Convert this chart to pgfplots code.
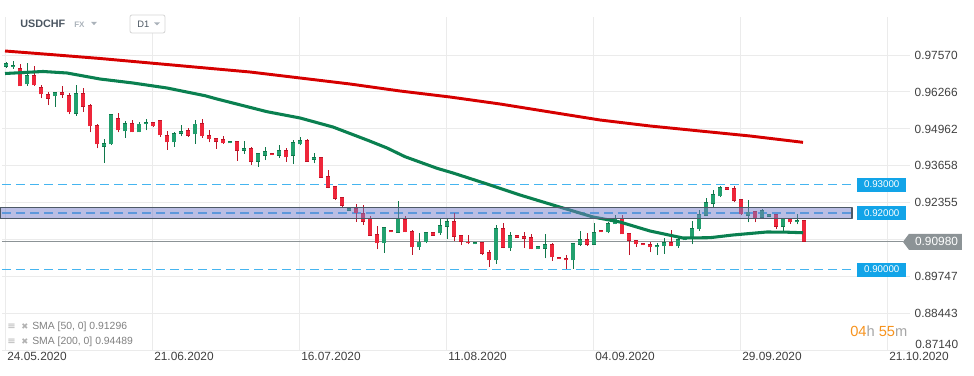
\documentclass[border=0pt]{standalone}
\usepackage{fontspec}
\setmainfont{Liberation Sans}
\newfontfamily\dejavu{DejaVu Sans}
\usepackage{pgfplots}
\usepackage{pgfplotstable}
\pgfplotsset{compat=1.18}
\definecolor{gfill}{HTML}{22A06E}
\definecolor{gline}{HTML}{10784B}
\definecolor{rfill}{HTML}{EE263A}
\definecolor{rline}{HTML}{BE1428}
\definecolor{smaG}{HTML}{0A8050}
\definecolor{smaR}{HTML}{D60000}
\definecolor{lvl}{HTML}{45B5F0}
\definecolor{lvlbox}{HTML}{12A4E8}
\definecolor{band}{HTML}{757DC9}
\definecolor{bandline}{HTML}{4D5967}
\definecolor{gridc}{HTML}{EBEBEB}
\definecolor{tickc}{HTML}{404040}
\definecolor{cur}{HTML}{8C9396}
\definecolor{orng}{HTML}{F7931E}
\definecolor{hdr}{HTML}{4B5661}
\definecolor{lgray}{HTML}{AAB2BA}

\pgfplotstableread{
x o h l c
0 0.97147 0.97335 0.97123 0.97288
1 0.97147 0.97358 0.97076 0.97206
3 0.96535 0.97288 0.96488 0.96865
7 0.96112 0.96253 0.95748 0.96253
10 0.95489 0.96512 0.95430 0.96218
14 0.94337 0.94607 0.93772 0.94454
15 0.94419 0.95477 0.94395 0.95477
17 0.94877 0.95242 0.94654 0.95160
19 0.94842 0.95218 0.94842 0.95148
20 0.95124 0.95312 0.94913 0.95195
24 0.94489 0.94842 0.94325 0.94807
25 0.94795 0.95101 0.94701 0.94889
27 0.94772 0.95265 0.94442 0.95148
32 0.94454 0.94537 0.94454 0.94537
34 0.94196 0.94525 0.94078 0.94278
36 0.93808 0.94102 0.93631 0.94102
37 0.94019 0.94313 0.93866 0.94184
39 0.94019 0.94395 0.93949 0.94207
41 0.94019 0.94572 0.93725 0.94501
42 0.94419 0.94666 0.94384 0.94572
44 0.93878 0.94125 0.93749 0.93960
49 0.92079 0.92173 0.92079 0.92173
54 0.90927 0.91491 0.90598 0.91491
56 0.91303 0.92420 0.91303 0.91797
59 0.90786 0.91280 0.90692 0.90986
60 0.90962 0.91315 0.90927 0.91315
62 0.91280 0.91832 0.91221 0.91574
63 0.91515 0.91832 0.91080 0.91715
67 0.90892 0.90974 0.90892 0.90974
70 0.90327 0.91574 0.90210 0.91456
72 0.90751 0.91315 0.90657 0.91209
76 0.90715 0.90821 0.90715 0.90821
77 0.90739 0.91245 0.90398 0.90892
81 0.90327 0.90927 0.90022 0.90927
82 0.90868 0.91362 0.90845 0.91080
84 0.90868 0.91633 0.90868 0.91315
86 0.91315 0.91691 0.91279 0.91632
87 0.91597 0.91926 0.91597 0.91809
93 0.90786 0.90927 0.90515 0.90868
94 0.90821 0.91103 0.90562 0.90962
96 0.90821 0.91127 0.90774 0.91068
97 0.91032 0.91127 0.91032 0.91127
98 0.91103 0.91714 0.90891 0.91456
99 0.91420 0.92102 0.91362 0.91950
100 0.91903 0.92514 0.91903 0.92373
101 0.92326 0.92808 0.92220 0.92655
102 0.92585 0.92961 0.92561 0.92914
106 0.91903 0.92443 0.91667 0.92044
108 0.91832 0.92138 0.91809 0.92091
109 0.91867 0.91950 0.91867 0.91950
111 0.91515 0.91832 0.91362 0.91832
113 0.91667 0.91950 0.91597 0.91750
}\greenC

\pgfplotstableread{
x o h l c
2 0.97100 0.97241 0.96465 0.96465
4 0.96865 0.97170 0.96477 0.96500
5 0.96430 0.96512 0.96042 0.96183
6 0.96183 0.96253 0.95806 0.96030
8 0.96253 0.96465 0.96065 0.96159
9 0.96159 0.96218 0.95477 0.95548
11 0.96218 0.96394 0.95571 0.95748
12 0.95806 0.95830 0.94842 0.95054
13 0.95101 0.95124 0.94278 0.94419
16 0.95336 0.95512 0.94842 0.94913
18 0.95160 0.95265 0.94842 0.94842
21 0.95195 0.95218 0.95030 0.95054
22 0.95265 0.95265 0.94678 0.94736
23 0.94748 0.94889 0.94231 0.94489
26 0.94913 0.94983 0.94689 0.94725
28 0.95171 0.95312 0.94654 0.94701
29 0.94748 0.94925 0.94490 0.94595
30 0.94631 0.94631 0.94266 0.94513
31 0.94595 0.94713 0.94431 0.94454
33 0.94525 0.94525 0.93843 0.94196
35 0.94278 0.94313 0.93702 0.93808
38 0.94113 0.94113 0.94031 0.94031
40 0.94219 0.94278 0.93796 0.93960
43 0.94572 0.94595 0.93808 0.93808
45 0.93960 0.93960 0.93243 0.93243
46 0.93302 0.93514 0.92867 0.92890
47 0.92949 0.92949 0.92455 0.92502
48 0.92549 0.92573 0.92220 0.92256
50 0.92173 0.92314 0.91691 0.91985
51 0.91985 0.92279 0.91574 0.91691
52 0.91797 0.91891 0.91197 0.91197
53 0.91256 0.91538 0.90715 0.90927
55 0.91385 0.91385 0.91315 0.91315
57 0.91785 0.91903 0.91315 0.91315
58 0.91362 0.91397 0.90516 0.90786
61 0.91315 0.91315 0.91198 0.91198
64 0.91715 0.91985 0.91009 0.91162
65 0.91209 0.91209 0.90868 0.90986
66 0.90986 0.91221 0.90892 0.90927
68 0.90974 0.90974 0.90516 0.90563
69 0.90610 0.90692 0.90104 0.90327
71 0.91456 0.91633 0.90751 0.90774
73 0.91209 0.91209 0.91127 0.91127
74 0.91174 0.91315 0.90774 0.91092
75 0.91139 0.91245 0.90715 0.90715
78 0.90892 0.90927 0.90316 0.90433
79 0.90433 0.90433 0.90363 0.90363
80 0.90398 0.90516 0.90022 0.90327
83 0.91080 0.91280 0.90845 0.90868
85 0.91397 0.91397 0.91315 0.91315
88 0.91832 0.91926 0.91244 0.91244
89 0.91279 0.91279 0.90515 0.91021
90 0.91044 0.91044 0.90809 0.90891
91 0.90927 0.90927 0.90856 0.90856
92 0.90891 0.90985 0.90609 0.90786
95 0.90962 0.91397 0.90821 0.90821
103 0.92902 0.92902 0.92820 0.92820
104 0.92867 0.92949 0.92396 0.92432
105 0.92490 0.92490 0.91926 0.91950
107 0.92067 0.92067 0.91667 0.91809
110 0.91950 0.91950 0.91432 0.91515
112 0.91832 0.91832 0.91620 0.91667
114 0.91750 0.91750 0.90980 0.90980
}\redC

\begin{document}
\begin{tikzpicture}
\useasboundingbox (-1.5pt,-18.225pt) rectangle (729pt,263.025pt);
\begin{axis}[
  at={(0pt,0pt)}, anchor=south west,
  scale only axis, width=681pt, height=250.275pt,
  xmin=-0.5714, xmax=129.1429, ymin=0.8714, ymax=0.9891,
  clip=false,
  axis line style={draw=none},
  major tick length=0pt,
  grid=major,
  major grid style={draw=gridc, line width=0.7pt},
  xtick={-0.14,20.86,41.86,62.86,83.86,104.86,125.86},
  xticklabels={24.05.2020,21.06.2020,16.07.2020,11.08.2020,04.09.2020,29.09.2020,21.10.2020},
  ytick={0.8714,0.88443,0.89747,0.91051,0.92355,0.93658,0.94962,0.96266,0.9757},
  yticklabels={,0.88443,0.89747,,0.92355,0.93658,0.94962,0.96266,0.97570},
  ytick pos=right, yticklabel pos=right,
  tick label style={font=\fontsize{8.9}{10}\selectfont, text=tickc},
  xticklabel style={anchor=north west, inner xsep=1.5pt, yshift=2.2pt},
  every axis plot/.append style={line join=round},
]
% level lines
\addplot[lvl, line width=1.1pt, dash pattern=on 7pt off 3.5pt, forget plot] coordinates {(-0.5714,0.93) (121.0,0.93)};
\addplot[lvl, line width=1.1pt, dash pattern=on 7pt off 3.5pt, forget plot] coordinates {(-0.5714,0.92) (121.0,0.92)};
\addplot[lvl, line width=1.1pt, dash pattern=on 7pt off 3.5pt, forget plot] coordinates {(-0.5714,0.90) (121.0,0.90)};
\addplot[cur, line width=0.75pt, forget plot] coordinates {(-0.5714,0.9098) (128.14,0.9098)};

% wicks
\addplot[draw=none, mark=none, forget plot, error bars/.cd, y dir=plus, y explicit, error mark=none,
  error bar style={draw=gline, line width=0.7pt}]
  table[x=x, y=l, y error plus expr=\thisrow{h}-\thisrow{l}] {\greenC};
\addplot[draw=none, mark=none, forget plot, error bars/.cd, y dir=plus, y explicit, error mark=none,
  error bar style={draw=rline, line width=0.7pt}]
  table[x=x, y=l, y error plus expr=\thisrow{h}-\thisrow{l}] {\redC};
% bodies outer
\addplot[draw=none, mark=none, forget plot, error bars/.cd, y dir=plus, y explicit, error mark=none,
  error bar style={draw=gline, line width=3.5pt}]
  table[x=x, y=o, y error plus expr=\thisrow{c}-\thisrow{o}] {\greenC};
\addplot[draw=none, mark=none, forget plot, error bars/.cd, y dir=plus, y explicit, error mark=none,
  error bar style={draw=rline, line width=3.5pt}]
  table[x=x, y=c, y error plus expr=\thisrow{o}-\thisrow{c}] {\redC};
% bodies inner
\addplot[draw=none, mark=none, forget plot, error bars/.cd, y dir=plus, y explicit, error mark=none,
  error bar style={draw=gfill, line width=2.4pt}]
  table[x=x, y expr=\thisrow{o}+0.00022, y error plus expr=\thisrow{c}-\thisrow{o}-0.00044] {\greenC};
\addplot[draw=none, mark=none, forget plot, error bars/.cd, y dir=plus, y explicit, error mark=none,
  error bar style={draw=rfill, line width=2.4pt}]
  table[x=x, y expr=\thisrow{c}+0.00022, y error plus expr=\thisrow{o}-\thisrow{c}-0.00044] {\redC};

% SMA 200
\addplot[smaR, line width=2.2pt, forget plot] coordinates {
(-0.14,0.97711) (6.29,0.97588) (13.43,0.97447) (20.57,0.97288) (27.71,0.97129) (34.86,0.96970)
(42,0.96759) (49.14,0.96547) (56.29,0.96300) (63.43,0.96088) (70.57,0.95842) (77.71,0.95559)
(84.86,0.95277) (92,0.95066) (99.14,0.94889) (106.29,0.94713) (113.86,0.94489)};
% SMA 50
\addplot[smaG, line width=2.3pt, forget plot] coordinates {
(-0.14,0.96917) (5.29,0.96988) (8.71,0.96935) (13.43,0.96723) (18.14,0.96582) (23,0.96406)
(28.43,0.96134) (30.14,0.96018) (37.29,0.95570) (42,0.95348) (46.71,0.95030) (51.57,0.94572)
(54.43,0.94290) (57,0.93983) (61.57,0.93574) (63.86,0.93408) (67.71,0.93101) (73.43,0.92632)
(78.14,0.92279) (83.86,0.91856) (87.71,0.91679) (92,0.91362) (96.71,0.91115) (100.57,0.91126)
(103.86,0.91221) (108.71,0.91327) (111.57,0.91320) (113.86,0.91300)};

% band
\addplot[fill=band, fill opacity=0.5, draw=bandline, line width=0.9pt, forget plot] coordinates {
(-0.85,0.91805) (120.86,0.91805) (120.86,0.92200) (-0.85,0.92200)} -- cycle;

% level labels
\node[fill=lvlbox, text=white, font=\fontsize{7.3}{8}\selectfont, minimum width=36.75pt, minimum height=10.5pt, inner sep=0pt, anchor=west] at (axis cs:121.57,0.93) {0.93000};
\node[fill=lvlbox, text=white, font=\fontsize{7.3}{8}\selectfont, minimum width=36.75pt, minimum height=10.5pt, inner sep=0pt, anchor=west] at (axis cs:121.57,0.92) {0.92000};
\node[fill=lvlbox, text=white, font=\fontsize{7.3}{8}\selectfont, minimum width=36.75pt, minimum height=10.5pt, inner sep=0pt, anchor=west] at (axis cs:121.57,0.90) {0.90000};
% current price tag
\fill[cur] (axis cs:128.14,0.9098) -- ++(4.5pt,6pt) -- ++(39.75pt,0pt) -- ++(0pt,-12pt) -- ++(-39.75pt,0pt) -- cycle;
\node[text=white, font=\fontsize{8.9}{10}\selectfont, inner sep=0pt] at (axis cs:132.93,0.9098) {0.90980};
\end{axis}

% bottom tick label 0.87140 (raised)
\node[anchor=west, inner sep=0pt, text=tickc, font=\fontsize{8.9}{10}\selectfont] at (684.75pt,5.0pt) {0.87140};

% header
\node[anchor=west, inner sep=0pt, text=hdr, font=\bfseries\fontsize{8.1}{10}\selectfont] at (13.5pt,245pt) {USDCHF};
\node[anchor=west, inner sep=0pt, text=lgray, font=\bfseries\fontsize{6}{7}\selectfont] at (54pt,244.3pt) {FX};
\fill[lgray] (66.75pt,246.6pt) -- (71.25pt,246.6pt) -- (69pt,244.2pt) -- cycle;
\draw[draw=gridc!80!gray, fill=white, rounded corners=1.5pt, line width=0.6pt] (96pt,238.3pt) rectangle (122.25pt,251.8pt);
\node[anchor=west, inner sep=0pt, text=hdr, font=\fontsize{7}{8}\selectfont] at (101.25pt,245pt) {D1};
\fill[lgray] (114pt,246.3pt) -- (118.5pt,246.3pt) -- (116.25pt,243.9pt) -- cycle;

% SMA legend
\node[anchor=west, inner sep=0pt, text=gray!60, font=\dejavu\fontsize{7.5}{8}\selectfont] at (3.75pt,17.8pt) {≡};
\node[anchor=west, inner sep=0pt, text=gray!60, font=\dejavu\fontsize{6.3}{8}\selectfont] at (14.25pt,17.8pt) {✖};
\node[anchor=west, inner sep=0pt, text=gray, font=\fontsize{7.8}{9}\selectfont] at (22.5pt,17.8pt) {SMA [50,\ 0] 0.91296};
\node[anchor=west, inner sep=0pt, text=gray!60, font=\dejavu\fontsize{7.5}{8}\selectfont] at (3.75pt,6.5pt) {≡};
\node[anchor=west, inner sep=0pt, text=gray!60, font=\dejavu\fontsize{6.3}{8}\selectfont] at (14.25pt,6.5pt) {✖};
\node[anchor=west, inner sep=0pt, text=gray, font=\fontsize{7.8}{9}\selectfont] at (22.5pt,6.5pt) {SMA [200,\ 0] 0.94489};

% countdown
\node[anchor=west, inner sep=0pt, font=\fontsize{11}{12}\selectfont] at (636pt,14.8pt) {\textcolor{orng}{04}\textcolor{gray!70}{h} \textcolor{orng}{55}\textcolor{gray!70}{m}};
\end{tikzpicture}
\end{document}
